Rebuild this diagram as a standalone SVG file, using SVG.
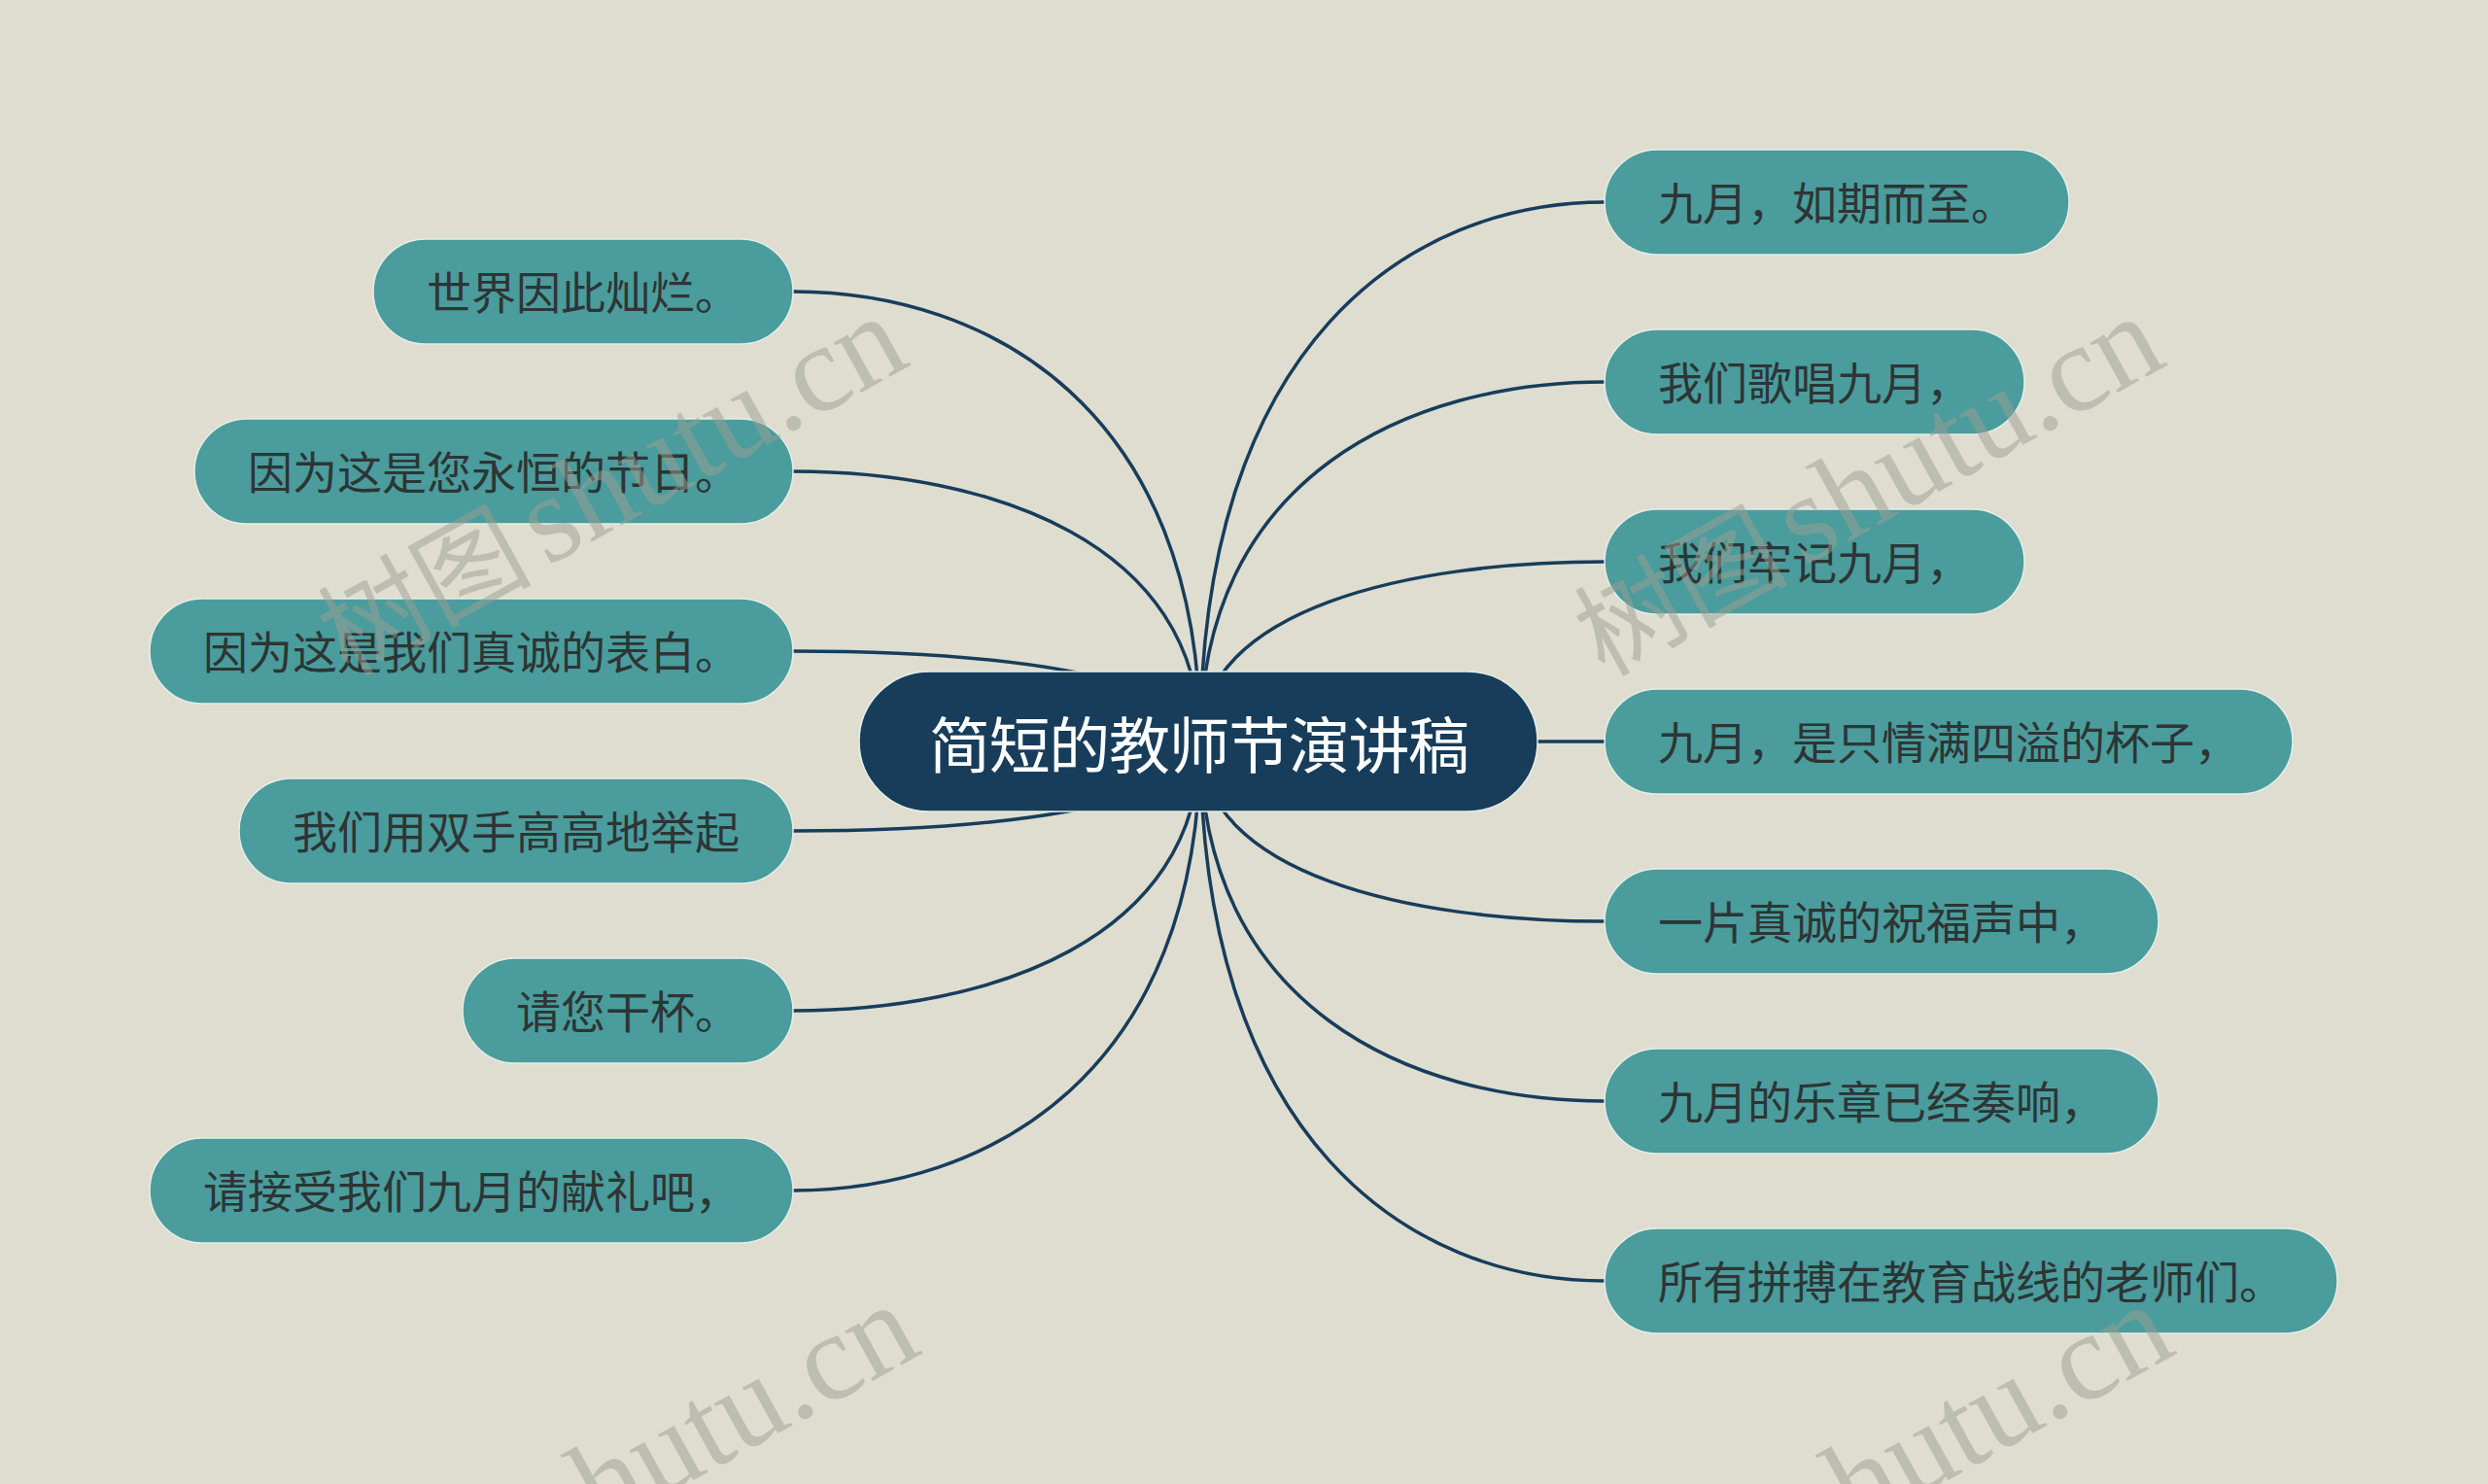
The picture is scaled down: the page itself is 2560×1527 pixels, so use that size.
<svg xmlns="http://www.w3.org/2000/svg" width="2560" height="1527" viewBox="0 0 2560 1527">
<style>
.bg{fill:#dfddd0}
.link{fill:none;stroke:#173d5b;stroke-width:3.5}
.sub rect{fill:#4b9c9c;stroke:#e4eee8;stroke-width:1.5}
.sub text{font-family:"Noto Sans CJK SC","Noto Sans",sans-serif;font-size:46px;fill:#2d3535;text-anchor:middle;dominant-baseline:central}
.root rect{fill:#173d5b;stroke:#e4eee8;stroke-width:1.5}
.root text{font-family:"Noto Sans CJK SC","Noto Sans",sans-serif;font-size:63px;fill:#ffffff;text-anchor:middle;dominant-baseline:central}
.wm{fill:#9f9f93;opacity:0.5;font-family:"Liberation Serif","Noto Sans CJK SC",serif;font-size:128px}
.wm .cjk{font-size:110px}
</style>
<rect class="bg" x="0" y="0" width="2560" height="1527"/>
<g id="connectors">
<path class="link" d="M1235 763 C1235 352,1451 208,1651 208"/>
<path class="link" d="M1235 763 C1235 489,1451 393,1651 393"/>
<path class="link" d="M1235 763 C1235 626,1451 578,1651 578"/>
<path class="link" d="M1235 763 L1651 763"/>
<path class="link" d="M1235 763 C1235 900,1451 948,1651 948"/>
<path class="link" d="M1235 763 C1235 1037,1451 1133,1651 1133"/>
<path class="link" d="M1235 763 C1235 1174,1451 1318,1651 1318"/>
<path class="link" d="M1235 763 C1235 420,1017 300,816 300"/>
<path class="link" d="M1235 763 C1235 557,1017 485,816 485"/>
<path class="link" d="M1235 763 C1235 694,1017 670,816 670"/>
<path class="link" d="M1235 763 C1235 831,1017 855,816 855"/>
<path class="link" d="M1235 763 C1235 968,1017 1040,816 1040"/>
<path class="link" d="M1235 763 C1235 1105,1017 1225,816 1225"/>
</g>
<g id="root" class="root">
<rect x="884" y="691" width="698" height="144" rx="72"/>
<text x="1234" y="762" textLength="556" lengthAdjust="spacing">简短的教师节演讲稿</text>
</g>
<g id="r1" class="sub"><rect x="1651" y="154" width="478" height="108" rx="54"/><text x="1890" y="206">九月，如期而至。</text></g>
<g id="r2" class="sub"><rect x="1651" y="339" width="432" height="108" rx="54"/><text x="1867" y="391">我们歌唱九月，</text></g>
<g id="r3" class="sub"><rect x="1651" y="524" width="432" height="108" rx="54"/><text x="1867" y="576">我们牢记九月，</text></g>
<g id="r4" class="sub"><rect x="1651" y="709" width="708" height="108" rx="54"/><text x="2005" y="761">九月，是只情满四溢的杯子，</text></g>
<g id="r5" class="sub"><rect x="1651" y="894" width="570" height="108" rx="54"/><text x="1936" y="946">一片真诚的祝福声中，</text></g>
<g id="r6" class="sub"><rect x="1651" y="1079" width="570" height="108" rx="54"/><text x="1936" y="1131">九月的乐章已经奏响，</text></g>
<g id="r7" class="sub"><rect x="1651" y="1264" width="754" height="108" rx="54"/><text x="2028" y="1316">所有拼搏在教育战线的老师们。</text></g>
<g id="l1" class="sub"><rect x="384" y="246" width="432" height="108" rx="54"/><text x="600" y="298">世界因此灿烂。</text></g>
<g id="l2" class="sub"><rect x="200" y="431" width="616" height="108" rx="54"/><text x="508" y="483">因为这是您永恒的节日。</text></g>
<g id="l3" class="sub"><rect x="154" y="616" width="662" height="108" rx="54"/><text x="485" y="668">因为这是我们真诚的表白。</text></g>
<g id="l4" class="sub"><rect x="246" y="801" width="570" height="108" rx="54"/><text x="531" y="853">我们用双手高高地举起</text></g>
<g id="l5" class="sub"><rect x="476" y="986" width="340" height="108" rx="54"/><text x="646" y="1038">请您干杯。</text></g>
<g id="l6" class="sub"><rect x="154" y="1171" width="662" height="108" rx="54"/><text x="485" y="1223">请接受我们九月的献礼吧，</text></g>
<g id="watermarks">
<text class="wm" transform="translate(563 583) rotate(-29)"><tspan class="cjk" x="-235">树图</tspan><tspan x="0">shutu.cn</tspan></text>
<text class="wm" transform="translate(1856 583) rotate(-29)"><tspan class="cjk" x="-235">树图</tspan><tspan x="0">shutu.cn</tspan></text>
<text class="wm" transform="translate(575 1600) rotate(-29)"><tspan class="cjk" x="-235">树图</tspan><tspan x="0">shutu.cn</tspan></text>
<text class="wm" transform="translate(1866 1600) rotate(-29)"><tspan class="cjk" x="-235">树图</tspan><tspan x="0">shutu.cn</tspan></text>
</g>
</svg>
